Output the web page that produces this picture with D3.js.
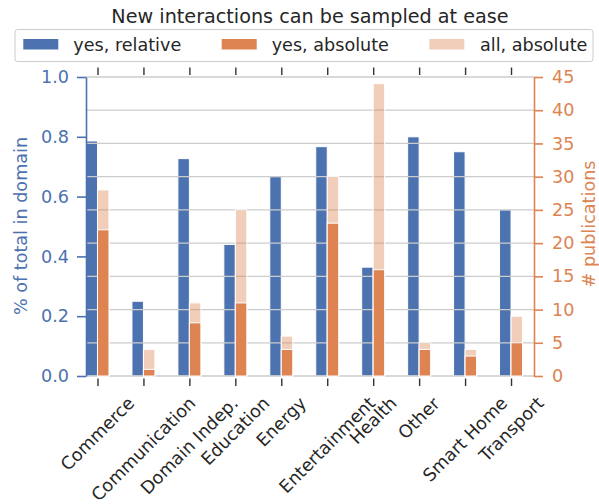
<!DOCTYPE html>
<html>
<head>
<meta charset="utf-8">
<script src="https://cdn.jsdelivr.net/npm/d3@7"></script>
<style>
  html, body { margin: 0; padding: 0; background: #fff; }
  svg { display: block; font-family: "DejaVu Sans", sans-serif; }
</style>
</head>
<body>
<svg id="chart" width="599" height="504"></svg>
<script>
// Application domains
const categories = ["Commerce", "Communication", "Domain Indep.", "Education", "Energy",
  "Entertainment", "Health", "Other", "Smart Home", "Transport"];
// Share of publications per domain where new interactions can be sampled
const yesRelative = [0.786, 0.25, 0.727, 0.44, 0.667, 0.767, 0.364, 0.8, 0.75, 0.556];
// Number of publications with "yes"
const yesAbsolute = [22, 1, 8, 11, 4, 23, 16, 4, 3, 5];
// Number of publications in total
const allAbsolute = [28, 4, 11, 25, 6, 30, 44, 5, 4, 9];
// Tick labels
const leftTicks = [0, 0.2, 0.4, 0.6, 0.8, 1.0];
const rightTicks = [0, 5, 10, 15, 20, 25, 30, 35, 40, 45];
const seriesNames = ["yes, relative", "yes, absolute", "all, absolute"];

const BLUE = "#4c72b0", ORANGE = "#dd8452", DARK = "#262626", GRID = "#cccccc";
const FS = 17.6;

const svg = d3.select("#chart");
const plot = { left: 86, right: 534, top: 77, bottom: 376 };

const x = d3.scaleLinear().domain([-0.25, 9.5]).range([plot.left, plot.right]);
const yL = d3.scaleLinear().domain([0, 1]).range([plot.bottom, plot.top]);
const yR = d3.scaleLinear().domain([0, 45]).range([plot.bottom, plot.top]);
const barW = 0.25;
const idx = d3.range(categories.length);

// relative bars (left axis)
svg.append("g").selectAll("rect").data(idx).join("rect")
  .attr("x", i => x(i - barW))
  .attr("width", x(barW) - x(0))
  .attr("y", i => yL(yesRelative[i]))
  .attr("height", i => yL(0) - yL(yesRelative[i]))
  .attr("fill", BLUE)
  .attr("stroke", "#fff").attr("stroke-width", 1);

// grid from the right axis, drawn above the left-axis bars
svg.append("g").selectAll("line").data(rightTicks).join("line")
  .attr("x1", plot.left).attr("x2", plot.right)
  .attr("y1", d => yR(d)).attr("y2", d => yR(d))
  .attr("stroke", GRID).attr("stroke-width", 1.3);

// totals (translucent) and "yes" counts (right axis)
svg.append("g").selectAll("rect").data(idx).join("rect")
  .attr("x", i => x(i))
  .attr("width", x(barW) - x(0))
  .attr("y", i => yR(allAbsolute[i]))
  .attr("height", i => yR(0) - yR(allAbsolute[i]))
  .attr("fill", ORANGE).attr("fill-opacity", 0.4)
  .attr("stroke", "#fff").attr("stroke-width", 1);

svg.append("g").selectAll("rect").data(idx).join("rect")
  .attr("x", i => x(i))
  .attr("width", x(barW) - x(0))
  .attr("y", i => yR(yesAbsolute[i]))
  .attr("height", i => yR(0) - yR(yesAbsolute[i]))
  .attr("fill", ORANGE)
  .attr("stroke", "#fff").attr("stroke-width", 1);

// left axis
const gL = svg.append("g").attr("transform", `translate(${plot.left},0)`)
  .call(d3.axisLeft(yL).tickValues(leftTicks).tickFormat(d3.format(".1f"))
    .tickSize(9).tickSizeOuter(0).tickPadding(8));
gL.select(".domain").attr("stroke", BLUE).attr("stroke-width", 1.6);
gL.selectAll(".tick line").attr("stroke", BLUE).attr("stroke-width", 1.6);
gL.selectAll(".tick text").attr("fill", BLUE).attr("font-size", FS).attr("font-family", "DejaVu Sans");

// right axis
const gR = svg.append("g").attr("transform", `translate(${plot.right},0)`)
  .call(d3.axisRight(yR).tickValues(rightTicks).tickSize(9).tickSizeOuter(0).tickPadding(9));
gR.select(".domain").attr("stroke", ORANGE).attr("stroke-width", 1.6);
gR.selectAll(".tick line").attr("stroke", ORANGE).attr("stroke-width", 1.6);
gR.selectAll(".tick text").attr("fill", ORANGE).attr("font-size", FS).attr("font-family", "DejaVu Sans");

// category ticks, bottom and top
const gB = svg.append("g").attr("transform", `translate(0,${plot.bottom + 2.5})`)
  .call(d3.axisBottom(x).tickValues(idx).tickFormat("").tickSize(7.5).tickSizeOuter(0));
gB.select(".domain").remove();
gB.selectAll(".tick line").attr("stroke", "#333").attr("stroke-width", 1.4);

const gT = svg.append("g").attr("transform", `translate(0,${plot.top - 2})`)
  .call(d3.axisTop(x).tickValues(idx).tickFormat("").tickSize(7.5).tickSizeOuter(0));
gT.select(".domain").remove();
gT.selectAll(".tick line").attr("stroke", "#333").attr("stroke-width", 1.4);

// rotated category labels, centred under each tick
const labelTop = 393;
const gLab = svg.append("g");
idx.forEach(i => {
  const t = gLab.append("text").text(categories[i])
    .attr("text-anchor", "middle").attr("font-size", FS).attr("fill", DARK);
  const bb = t.node().getBBox();
  const cx = bb.x + bb.width / 2, cy = bb.y + bb.height / 2;
  const half = (bb.width + bb.height) / (2 * Math.SQRT2);
  t.attr("transform", `translate(${x(i)},${labelTop + half}) rotate(-45) translate(${-cx},${-cy})`);
});

// axis titles
svg.append("text").text("% of total in domain")
  .attr("transform", "translate(26.5,226) rotate(-90)")
  .attr("text-anchor", "middle").attr("font-size", FS).attr("fill", BLUE);
svg.append("text").text("# publications")
  .attr("transform", "translate(594.5,224) rotate(-90)")
  .attr("text-anchor", "middle").attr("font-size", FS).attr("fill", ORANGE);

// title
svg.append("text").text("New interactions can be sampled at ease")
  .attr("x", 310).attr("y", 22.7).attr("text-anchor", "middle")
  .attr("font-size", 19.2).attr("fill", DARK);

// legend
const leg = svg.append("g");
leg.append("rect").attr("x", 15).attr("y", 29.5).attr("width", 578).attr("height", 32)
  .attr("rx", 2.5).attr("fill", "#fff").attr("stroke", "#cccccc").attr("stroke-width", 1);
const legItems = [
  { name: seriesNames[0], px: 23.3, tx: 73.3, fill: BLUE, op: 1 },
  { name: seriesNames[1], px: 221.7, tx: 271.7, fill: ORANGE, op: 1 },
  { name: seriesNames[2], px: 429.3, tx: 480, fill: ORANGE, op: 0.4 }
];
legItems.forEach(d => {
  leg.append("rect").attr("x", d.px).attr("y", 39).attr("width", 35).attr("height", 10.5)
    .attr("fill", d.fill).attr("fill-opacity", d.op);
  leg.append("text").text(d.name).attr("x", d.tx).attr("y", 50.5)
    .attr("font-size", FS).attr("fill", DARK);
});
</script>
</body>
</html>
